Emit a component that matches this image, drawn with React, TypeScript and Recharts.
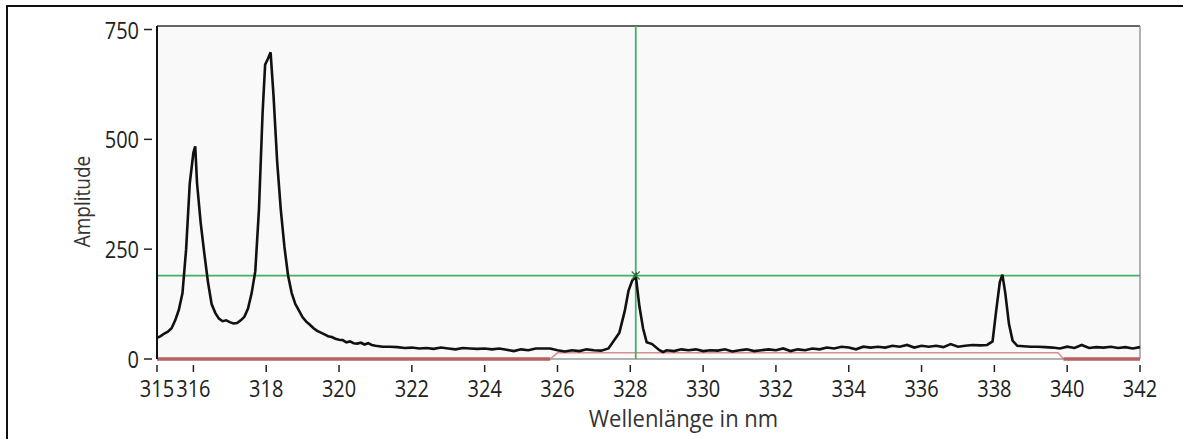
import { LineChart, Line, XAxis, YAxis, CartesianGrid, ReferenceLine, ReferenceDot, Label } from "recharts";

// spectrum
const wavelengths = [
  315.0, 315.1, 315.2, 315.3, 315.4, 315.5, 315.6, 315.7, 315.8, 315.9, 316.0, 316.05, 316.1, 316.2, 316.3, 316.4,
  316.5, 316.6, 316.7, 316.8, 316.9, 317.0, 317.1, 317.2, 317.3, 317.4, 317.5, 317.6, 317.7, 317.8, 317.9, 317.97,
  318.05, 318.12, 318.2, 318.3, 318.4, 318.5, 318.6, 318.7, 318.8, 318.9, 319.0, 319.1, 319.2, 319.3, 319.4, 319.5,
  319.6, 319.7, 319.8, 319.9, 320.0, 320.1, 320.2, 320.3, 320.4, 320.5, 320.6, 320.7, 320.8, 320.9, 321.0, 321.2,
  321.4, 321.6, 321.8, 322.0, 322.2, 322.4, 322.6, 322.8, 323.0, 323.2, 323.4, 323.6, 323.8, 324.0, 324.2, 324.4,
  324.6, 324.8, 325.0, 325.2, 325.4, 325.6, 325.8, 326.0, 326.2, 326.4, 326.6, 326.8, 327.0, 327.2, 327.4, 327.5,
  327.7, 327.85, 327.95, 328.05, 328.15, 328.25, 328.35, 328.45, 328.6, 328.8, 328.9, 329.0, 329.2, 329.4, 329.6, 329.8,
  330.0, 330.2, 330.4, 330.6, 330.8, 331.0, 331.2, 331.4, 331.6, 331.8, 332.0, 332.2, 332.4, 332.6, 332.8, 333.0,
  333.2, 333.4, 333.6, 333.8, 334.0, 334.2, 334.4, 334.6, 334.8, 335.0, 335.2, 335.4, 335.6, 335.8, 336.0, 336.2,
  336.4, 336.6, 336.8, 337.0, 337.2, 337.4, 337.6, 337.8, 337.95, 338.05, 338.15, 338.22, 338.3, 338.4, 338.5, 338.63,
  338.8, 339.0, 339.2, 339.4, 339.6, 339.8, 340.0, 340.2, 340.4, 340.6, 340.8, 341.0, 341.2, 341.4, 341.6, 341.8, 342.0,
];
const amplitudes = [
  48, 52, 58, 62, 70, 88, 112, 150, 250, 400, 470, 484, 400, 310, 240, 175,
  125, 105, 92, 86, 88, 84, 81, 82, 88, 96, 115, 150, 200, 340, 560, 670,
  684, 698, 600, 450, 340, 255, 190, 150, 125, 110, 95, 85, 78, 70, 64, 60,
  56, 52, 50, 46, 44, 43, 38, 40, 36, 35, 37, 33, 36, 32, 30, 28,
  28, 27, 25, 26, 24, 25, 23, 26, 24, 22, 25, 24, 23, 24, 22, 24,
  21, 18, 22, 20, 24, 24, 24, 20, 17, 20, 18, 22, 20, 19, 24, 36,
  60, 110, 155, 178, 190, 120, 70, 38, 34, 20, 16, 20, 18, 22, 20, 22,
  18, 20, 19, 22, 17, 20, 22, 18, 20, 22, 20, 24, 18, 22, 20, 24,
  22, 26, 24, 28, 26, 22, 28, 26, 28, 26, 30, 28, 32, 26, 30, 28,
  30, 27, 34, 28, 30, 32, 31, 32, 40, 110, 175, 192, 150, 80, 42, 30,
  29, 28, 28, 27, 26, 24, 28, 25, 32, 25, 27, 26, 28, 25, 27, 24, 27,
];

// red baseline
const baselineWl = [315, 325.8, 326.0, 339.75, 339.9, 342];
const baselineAmp = [0, 0, 14, 14, 0, 0];

// cursor
const cursorWl = 328.15;
const cursorAmp = 190;

const xTicks = [315, 316, 318, 320, 322, 324, 326, 328, 330, 332, 334, 336, 338, 340, 342];
const yTicks = [0, 250, 500, 750];

const spectrum = wavelengths.map((wl, i) => ({ wl, amp: amplitudes[i] }));
const baseline = baselineWl.map((wl, i) => ({ wl, amp: baselineAmp[i] }));
const baselineZero = baselineWl.map((wl, i) => ({ wl, amp: baselineAmp[i] === 0 ? 0 : null }));

const FONT = "'Open Sans', 'Noto Sans', sans-serif";

function XTick({ x, y, payload }: any) {
  return (
    <g>
      <line x1={x} x2={x} y1={y + 6} y2={y + 13} stroke="#222" strokeWidth={1.5} />
      <text transform={`translate(${x} ${y + 38}) scale(1 1.15)`} textAnchor="middle" fontSize={20} fill="#222" fontFamily={FONT}>
        {payload.value}
      </text>
    </g>
  );
}

function YTick({ x, y, payload }: any) {
  return (
    <g>
      <line x1={x - 13} x2={x - 5} y1={y} y2={y} stroke="#222" strokeWidth={1.5} />
      <text transform={`translate(${x - 18} ${y + 9}) scale(1 1.15)`} textAnchor="end" fontSize={20} fill="#222" fontFamily={FONT}>
        {payload.value}
      </text>
    </g>
  );
}

function CrossMark({ cx, cy }: any) {
  return (
    <g stroke="#2e7d46" strokeWidth={1.2}>
      <line x1={cx - 4} x2={cx + 4} y1={cy - 4} y2={cy + 4} />
      <line x1={cx - 4} x2={cx + 4} y1={cy + 4} y2={cy - 4} />
    </g>
  );
}

export default function App() {
  return (
    <div style={{ position: "absolute", left: 0, top: 0, width: 1183, height: 439, background: "#fff", overflow: "hidden" }}>
      <div style={{ position: "absolute", left: 6, top: 5, width: 1300, height: 600, borderTop: "2px solid #111", borderLeft: "2px solid #111" }} />
      <div style={{ position: "absolute", left: 0, top: 0 }}>
        <LineChart width={1183} height={439} margin={{ top: 26, right: 43, bottom: 30, left: 97 }}>
          <CartesianGrid horizontal={false} vertical={false} fill="#f9f9f9" />
          <XAxis
            type="number"
            dataKey="wl"
            domain={[315, 342]}
            ticks={xTicks}
            height={50}
            tickSize={0}
            tickMargin={0}
            tickLine={false}
            axisLine={false}
            tick={<XTick />}
            interval={0}
          >
            <Label
              content={({ viewBox }: any) => (
                <text
                  transform={`translate(${viewBox.x + viewBox.width / 2 + 35} ${viewBox.y + 68}) scale(1 1.1)`}
                  textAnchor="middle"
                  fontSize={22}
                  fill="#333"
                  fontFamily={FONT}
                >
                  Wellenlänge in nm
                </text>
              )}
            />
          </XAxis>
          <YAxis
            type="number"
            domain={[0, 758]}
            ticks={yTicks}
            width={60}
            tickSize={0}
            tickMargin={0}
            tickLine={false}
            axisLine={{ stroke: "#111", strokeWidth: 2 }}
            tick={<YTick />}
            interval={0}
          >
            <Label
              content={({ viewBox }: any) => {
                const cx = viewBox.x - 15;
                const cy = viewBox.y + viewBox.height / 2 + 9;
                return (
                  <text
                    transform={`translate(${cx} ${cy}) rotate(-90) scale(1 1.1)`}
                    textAnchor="middle"
                    dominantBaseline="central"
                    fontSize={19}
                    fill="#333"
                    fontFamily={FONT}
                  >
                    Amplitude
                  </text>
                );
              }}
            />
          </YAxis>
          <ReferenceLine y={758} stroke="#333" strokeWidth={1.5} />
          <ReferenceLine x={342} stroke="#999" strokeWidth={1.5} />
          <ReferenceLine y={0} stroke="#999" strokeWidth={1.5} />
          <Line data={baseline} dataKey="amp" stroke="#d98e8e" strokeWidth={1.5} dot={false} isAnimationActive={false} />
          <Line data={baselineZero} dataKey="amp" stroke="#b56262" strokeWidth={3.5} dot={false} isAnimationActive={false} />
          <ReferenceLine x={cursorWl} stroke="#46b062" strokeWidth={1.8} />
          <ReferenceLine y={cursorAmp} stroke="#46b062" strokeWidth={1.8} />
          <Line data={spectrum} dataKey="amp" stroke="#111" strokeWidth={2.6} dot={false} isAnimationActive={false} />
          <ReferenceDot x={cursorWl} y={cursorAmp} shape={<CrossMark />} />
        </LineChart>
      </div>
    </div>
  );
}
